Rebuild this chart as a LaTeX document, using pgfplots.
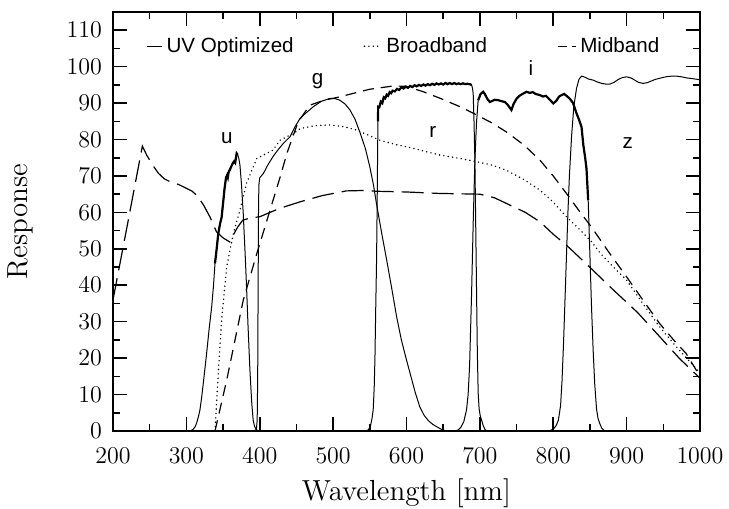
\documentclass[border=0pt]{standalone}
\usepackage{pgfplots}
\pgfplotsset{compat=1.18}
\usepackage{pgfplotstable}
\usepackage{fontspec}
\newfontfamily\lsans{Liberation Sans}

\pgfplotstableread{
x y
200 36
220 57
240 78.2
246 75.7
254 73
262 70.7
270 69.2
278 68.4
290 67.6
300 66.6
308 65.8
316 64.3
324 61.8
332 58.8
341 54.7
350 53
359 51.9
364 53.8
370 56
377 57.9
388 58.5
400 58.8
427 61.1
455 62.9
485 64.6
518 65.9
540 66
559 65.8
600 65.6
645 65.2
700 65.0
720 64
741 62.0
762 60
782 57.4
800 54
818 51.0
847 45.5
882 38.7
915 32.5
945 25.9
972 19.9
1000 14.5
}\uvopt

\pgfplotstableread{
x y
339 0
343.5 15.8
348 30.5
355 45.1
364 54.2
373 60.6
382 68
396 74.8
418 77.1
427.5 79.8
446 81.7
455 83
475 83.8
496 84
515 83.5
532 82.6
548 81.2
564 79.8
586 78.6
609 77.6
628 76.6
646 75.7
673 74.8
696 73.9
716 73
736 71.6
760 69
782 66.1
800 62.8
818 58.8
835 55.5
852 52
864 48.8
882 45
900 41.4
922 35
945 28.6
964 24
982 19.9
1000 16
}\broad

\pgfplotstableread{
x y
339 0
355 14
377.5 35.9
396 48.7
414 60.6
427.5 69.5
437 76.2
452 84.7
468 89.4
488 90.8
509 91.7
530 92.8
550 93.8
582 94.7
600 94.6
623 93.1
646 91.3
673 89.0
696 86.7
716 84.6
736 82.1
760 78.5
782 74.3
800 70
818 65.2
835 60.5
852 56
876 49
900 42.3
922 36
945 29.5
964 25
981 21.3
1000 15
}\midb

\pgfplotstableread{
x y
300 0
306 0.1
309 0.4
312 1.2
314 2.2
316.5 4
318.5 5.8
321 9.5
323 13
325.5 17.5
327.6 21.3
331 28
334.5 34.1
337 40
339 46
341 49.5
343.5 54.2
346 57
348 58.6
350 62.5
352 66.5
354 69.5
355.5 70.2
356.5 69.6
357.5 71
359 71.6
361 72.5
363 73.4
365 74
366.5 73.6
368.5 76.2
370 75.8
371.5 74.8
373 73
375 68
377.5 59.7
380 49
382 39.6
384 29
386.6 16.7
389 8
391 3
393 1.2
395.8 0.3
398 0
}\ufilt

\pgfplotstableread{
x y
393 0
395.5 0.5
396.5 3
397.2 15
397.8 40
398.3 60
398.8 67.5
400 69.5
405 70.7
411 73
418 75.3
425 77.2
432 78.9
441 80.7
448 83.5
455 85.8
463 87.3
473 89
484 90.5
496 91.3
503 91.2
509 90.8
516 89.8
523 88.1
530 85.5
537 81.7
544 77.5
550 72.5
555 67.5
559 62.5
566 54.5
573 46.9
580 39
586.5 31.4
593 25
600 19.5
606 15
612 10.5
618 6.7
624 4.3
630 2.8
636 1.8
641 1.2
648 0.4
655 0
}\gfilt

\pgfplotstableread{
x y
544 0
548 0.3
551 1.5
553 3.5
554.6 5.8
556 12
557 20
558 33
559.2 46.9
560 62
560.6 76
561.1 85
561.4 89
563 88.9
565 90.4
567 90.0
569 91.6
571 91.3
573 92.3
575 92.0
577 93.0
579 92.7
581 93.4
584 93.2
587 93.9
590 93.6
593 94.3
596 94.0
599 94.5
602 94.2
605 94.7
608 94.4
611 94.9
614 94.6
617 95.0
620 94.7
623 95.1
626 94.8
629 95.2
632 94.9
635 95.3
638 95.0
641 95.4
644 95.1
647 95.4
650 95.1
653 95.5
656 95.2
659 95.5
662 95.2
665 95.5
668 95.2
671 95.4
674 95.2
677 95.4
680 95.2
683 95.3
686 95.2
688.7 95.0
690 94
690.9 92.6
692 85
693.2 74.3
694.3 57
695.5 37.8
696.5 22
697.7 10.3
699 6
700.5 4.2
702.3 3
704.5 1.5
707 0.4
710 0
}\rfilt

\pgfplotstableread{
x y
666 0
670.4 0.3
674 1
678 2.5
681.8 5.8
684 10
686 18
688.7 37.8
691 58
693.2 74.3
695.5 85
697.7 90.8
701 92.5
704.5 93.1
707 92.4
710 91.2
713.6 90.3
717 90.6
720 90.9
725 90.8
730 90.5
734 90.3
738 89.5
743 88.1
746 89.8
750 91.2
754 92
758 92.5
763.6 93.1
768 92.8
772 93
776 92.5
781.7 92.2
786 91.8
790 92
795 91
800 89.9
804 90.6
808 91.8
811.3 92.2
815 92.5
818 92
822.6 91.2
827 90
831.7 87.2
835 85.5
838.5 83.5
841 78.5
843.5 75
845.3 72
847.6 63.4
850 48
852 35
854.4 22
856.5 13
859 6
861 3.5
863.5 2
866 0.8
870 0
}\ifilt

\pgfplotstableread{
x y
794 0
800 0.5
804 1.5
807 3
810 7
812 14
814 24
816 36
818 48
820 60
822 70
825 81
828 89
831.7 94
835 96.5
838.5 97.4
842 97.2
848 96.6
854.4 96.3
860 95.8
866 95.4
872 95.2
877 95.2
883 95.7
888 96.4
894 97
900 97.2
906 96.9
911 96.3
916 95.7
922.5 95.4
928 95.6
933 96
939 96.5
945 96.8
951 97.1
956 97.3
962 97.4
968 97.4
975 97.2
982 96.9
990 96.7
1000 96.4
}\zfilt

\begin{document}
\begin{tikzpicture}
\begin{axis}[
  width=293.5pt, height=209.5pt, scale only axis,
  xmin=200, xmax=1000, ymin=0, ymax=115,
  xtick={200,300,...,1000}, ytick={0,10,...,110},
  minor x tick num=1, minor y tick num=1,
  xtick pos=both, ytick pos=both,
  xticklabel pos=lower, yticklabel pos=left,
  tick align=inside, major tick length=7pt, minor tick length=3.5pt,
  axis line style={line width=1pt},
  every tick/.style={black, line width=0.8pt},
  /pgf/number format/1000 sep={},
  tick label style={font=\fontsize{13.2}{15}\selectfont},
  xticklabel style={yshift=-5pt},
  yticklabel style={xshift=-2pt},
  xlabel={Wavelength [nm]}, ylabel={Response},
  label style={font=\fontsize{14.5}{17}\selectfont},
  xlabel style={at={(axis description cs:0.5,0)}, anchor=center, yshift=-31pt},
  ylabel style={at={(axis description cs:-0.158,0.5)}, anchor=center, rotate=0},
  legend style={draw=none, fill=none, at={(axis cs:245,105.6)}, anchor=west,
    font=\lsans\fontsize{10.3}{12}\selectfont, inner sep=0pt,
    /tikz/every even column/.append style={column sep=33pt}},
  legend columns=3,
  legend cell align=left,
  legend image code/.code={\draw[#1] (0pt,0pt) -- (7.5pt,0pt);},
  clip=true,
]
\addplot[black, line width=0.6pt, dash pattern=on 11pt off 4pt] table {\uvopt};
\addlegendentry{UV Optimized}
\addplot[black, line width=0.8pt, line cap=round, dash pattern=on 0pt off 2.2pt,
  legend image code/.code={\draw[black, line width=0.8pt, line cap=round, dash pattern=on 0pt off 2.2pt] (0.5pt,0pt) -- (9pt,0pt);}] table {\broad};
\addlegendentry{Broadband}
\addplot[black, line width=0.6pt, dash pattern=on 5.5pt off 3.5pt,
  legend image code/.code={\draw[black, line width=0.6pt, dash pattern=on 4.5pt off 2.5pt] (0pt,0pt) -- (9pt,0pt);}] table {\midb};
\addlegendentry{Midband}

\addplot[black, line width=0.5pt, forget plot] table {\ufilt};
\addplot[black, line width=0.5pt, forget plot] table {\gfilt};
\addplot[black, line width=0.5pt, forget plot] table {\rfilt};
\addplot[black, line width=0.5pt, forget plot] table {\ifilt};
\addplot[black, line width=0.5pt, forget plot] table {\zfilt};
\addplot[black, line width=1.1pt, forget plot, restrict x to domain=338:371] table {\ufilt};
\addplot[black, line width=1.1pt, forget plot, restrict x to domain=561:689] table {\rfilt};
\addplot[black, line width=1.1pt, forget plot, restrict x to domain=697:848] table {\ifilt};

\node[font=\lsans\fontsize{10.3}{12}\selectfont] at (axis cs:355,80.5) {u};
\node[font=\lsans\fontsize{10.3}{12}\selectfont] at (axis cs:479,96) {g};
\node[font=\lsans\fontsize{10.3}{12}\selectfont] at (axis cs:636,82) {r};
\node[font=\lsans\fontsize{10.3}{12}\selectfont] at (axis cs:769.5,99.5) {i};
\node[font=\lsans\fontsize{10.3}{12}\selectfont] at (axis cs:901.6,79) {z};

\coordinate (bl) at (rel axis cs:0,0);
\coordinate (tr) at (rel axis cs:1,1);
\end{axis}
\pgfresetboundingbox
\path ([xshift=-56.5pt,yshift=-38.5pt]bl) rectangle ([xshift=14.5pt,yshift=6pt]tr);
\end{tikzpicture}
\end{document}
